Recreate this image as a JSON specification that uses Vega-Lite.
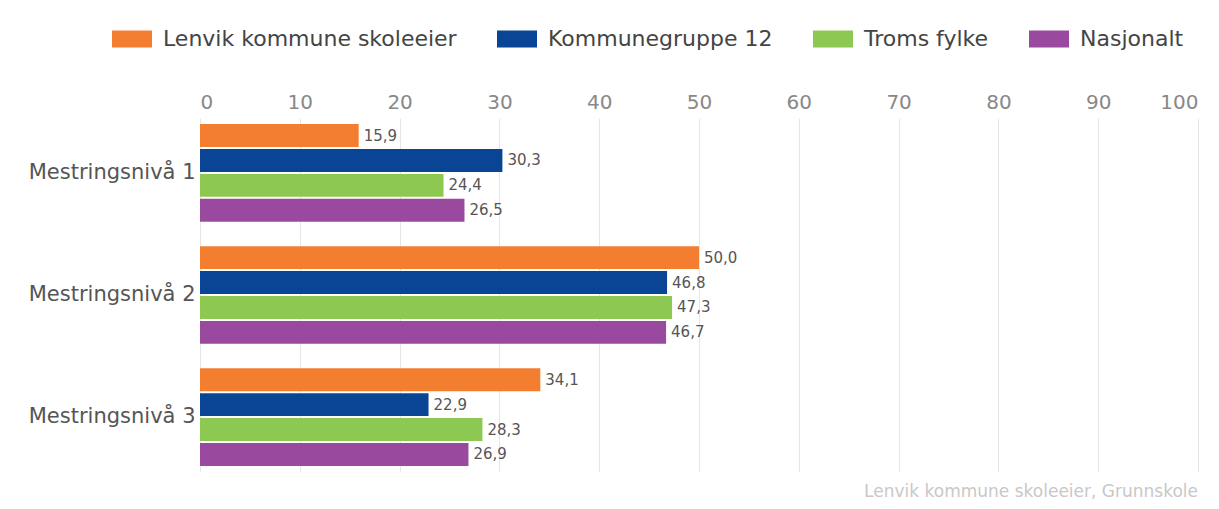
{
  "$schema": "https://vega.github.io/schema/vega-lite/v6.json",
  "width": 998,
  "height": 354,
  "autosize": {"type": "none"},
  "padding": {"left": 200, "top": 118, "right": 21, "bottom": 37},
  "background": "white",
  "config": {
    "view": {"stroke": null},
    "locale": {"number": {"decimal": ",", "thousands": " ", "grouping": [3], "currency": ["", " kr"]}},
    "font": "DejaVu Sans"
  },
  "title": {"text": "Lenvik kommune skoleeier, Grunnskole", "orient": "bottom", "anchor": "end", "fontSize": 17, "fontWeight": "normal", "color": "#c8c8c8", "offset": 12, "font": "DejaVu Sans"},
  "data": {"values": [
    {"niva": "Mestringsnivå 1", "serie": "Lenvik kommune skoleeier", "verdi": 15.9},
    {"niva": "Mestringsnivå 1", "serie": "Kommunegruppe 12", "verdi": 30.3},
    {"niva": "Mestringsnivå 1", "serie": "Troms fylke", "verdi": 24.4},
    {"niva": "Mestringsnivå 1", "serie": "Nasjonalt", "verdi": 26.5},
    {"niva": "Mestringsnivå 2", "serie": "Lenvik kommune skoleeier", "verdi": 50.0},
    {"niva": "Mestringsnivå 2", "serie": "Kommunegruppe 12", "verdi": 46.8},
    {"niva": "Mestringsnivå 2", "serie": "Troms fylke", "verdi": 47.3},
    {"niva": "Mestringsnivå 2", "serie": "Nasjonalt", "verdi": 46.7},
    {"niva": "Mestringsnivå 3", "serie": "Lenvik kommune skoleeier", "verdi": 34.1},
    {"niva": "Mestringsnivå 3", "serie": "Kommunegruppe 12", "verdi": 22.9},
    {"niva": "Mestringsnivå 3", "serie": "Troms fylke", "verdi": 28.3},
    {"niva": "Mestringsnivå 3", "serie": "Nasjonalt", "verdi": 26.9}
  ]},
  "encoding": {
    "y": {"field": "niva", "type": "nominal", "sort": null,
      "scale": {"paddingInner": 0.2, "paddingOuter": 0.05},
      "axis": {"title": null, "domain": false, "ticks": false, "labelFontSize": 21, "labelColor": "#555555", "labelPadding": 5, "labelFont": "DejaVu Sans"}},
    "yOffset": {"field": "serie", "type": "nominal", "sort": ["Lenvik kommune skoleeier", "Kommunegruppe 12", "Troms fylke", "Nasjonalt"], "scale": {"paddingInner": 0.08}},
    "x": {"field": "verdi", "type": "quantitative",
      "scale": {"domain": [0, 100], "nice": false},
      "axis": {"orient": "top", "title": null, "domain": false, "ticks": false, "values": [0,10,20,30,40,50,60,70,80,90,100], "labelFontSize": 20, "labelColor": "#888888", "labelPadding": 6, "gridColor": "#e6e6e6", "labelFont": "DejaVu Sans"}}
  },
  "layer": [
    {"mark": {"type": "bar"},
     "encoding": {
       "color": {"field": "serie", "type": "nominal", "sort": ["Lenvik kommune skoleeier", "Kommunegruppe 12", "Troms fylke", "Nasjonalt"],
         "scale": {"domain": ["Lenvik kommune skoleeier", "Kommunegruppe 12", "Troms fylke", "Nasjonalt"], "range": ["#F47E30", "#0A4595", "#8DC952", "#9A4A9E"]},
         "legend": {"title": null, "orient": "none", "direction": "horizontal", "legendX": -88, "legendY": -99,
           "symbolType": "M-1,-0.42H1V0.42H-1Z", "symbolSize": 1600, "symbolStrokeWidth": 0, "symbolOpacity": 1,
           "labelFontSize": 22, "labelColor": "#444444", "labelOffset": 11, "columnPadding": 40, "labelLimit": 400, "labelFont": "DejaVu Sans"}}
     }},
    {"mark": {"type": "text", "align": "left", "baseline": "middle", "dx": 5, "fontSize": 15, "color": "#555555", "font": "DejaVu Sans"},
     "encoding": {"text": {"field": "verdi", "type": "quantitative", "format": ".1f"}}}
  ]
}
